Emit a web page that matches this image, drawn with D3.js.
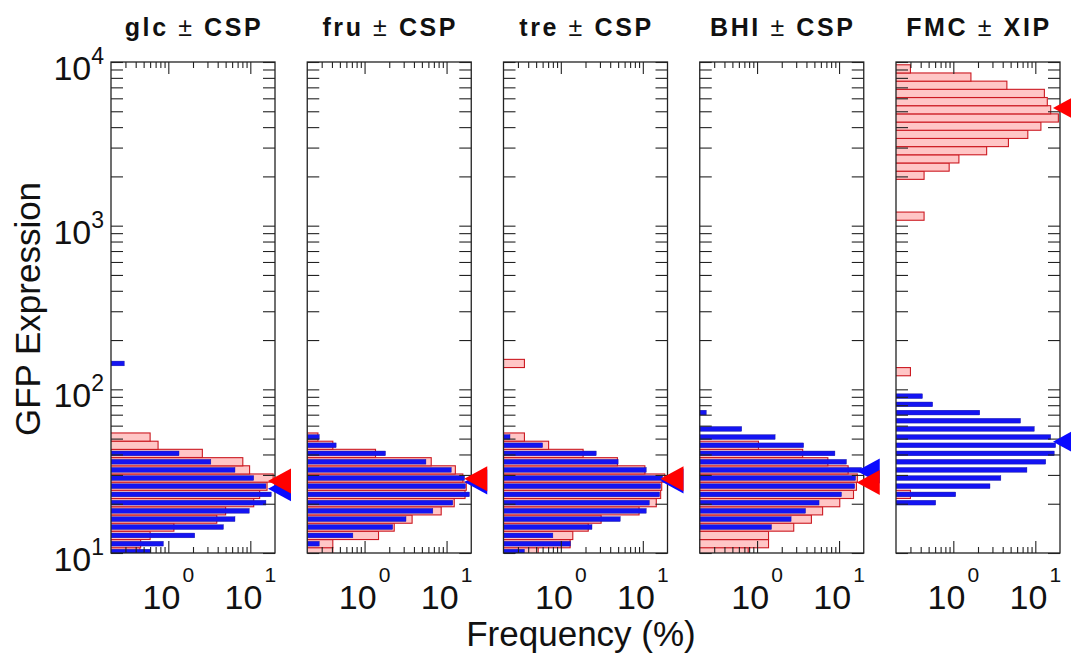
<!DOCTYPE html>
<html><head><meta charset="utf-8">
<script src="https://cdn.jsdelivr.net/npm/d3@7"></script>
<style>body{margin:0;background:#fff}svg{display:block}</style>
</head><body>
<svg id="chart" width="1071" height="656"></svg>
<script>
// ---------------- data ----------------
const panelNames = ["glc", "fru", "tre", "BHI", "FMC"];
const peptides = ["CSP", "CSP", "CSP", "CSP", "XIP"];
const binRatio = 1.122;           // histogram bins are 0.05 decade wide (GFP)
const xTickMajor = [1, 10];
const xTickMinor = [0.3,0.4,0.5,0.6,0.7,0.8,0.9,2,3,4,5,6,7,8,9];
const yTickMajor = [10, 100, 1000, 10000];
const yTickMinor = [20,30,40,50,60,70,80,90,200,300,400,500,600,700,800,900,2000,3000,4000,5000,6000,7000,8000,9000];
const yLabelExp = [1, 2, 3, 4];
const xLabelExp = [0, 1];

// [GFP bin centre, frequency %]  — red = with peptide, blue = without peptide
const glcWith = [[10.2,0.45],[11.4,0.46],[12.8,0.6],[14.4,1.17],[16.1,3.9],[18.1,5.0],[20.3,11],[22.8,13],[25.6,16],[28.7,19],[32.2,9.8],[36.1,8.1],[40.6,2.6],[45.5,0.75],[51.1,0.6]];
const glcWithout = [[10.2,0.61],[11.4,0.87],[12.8,2.1],[14.4,4.7],[16.1,6.5],[18.1,9.7],[20.3,15.5],[22.8,18],[25.6,15.5],[28.7,11],[32.2,6.5],[36.1,3.3],[40.6,1.35],[143.9,0.29]];
const fruWith = [[10.2,0.41],[11.4,0.41],[12.8,1.48],[14.4,2.3],[16.1,3.8],[18.1,8.6],[20.3,12.4],[22.8,16.8],[25.6,17.4],[28.7,15.8],[32.2,12.8],[36.1,6.5],[40.6,1.36],[45.5,0.41],[51.1,0.27]];
const fruWithout = [[11.4,0.28],[12.8,0.72],[14.4,2.2],[16.1,3.2],[18.1,6.8],[20.3,11.9],[22.8,19],[25.6,17],[28.7,16.6],[32.2,11.4],[36.1,5.6],[40.6,1.8],[45.5,0.45],[51.1,0.28]];
const treWith = [[10.2,0.53],[11.4,1.3],[12.8,1.4],[14.4,2.16],[16.1,3.1],[18.1,9],[20.3,14.6],[22.8,16.5],[25.6,17],[28.7,18.5],[32.2,10.6],[36.1,4.9],[40.6,1.87],[45.5,0.71],[51.1,0.36],[143.9,0.36]];
const treWithout = [[10.2,0.36],[11.4,1.31],[12.8,0.8],[14.4,2.4],[16.1,5.3],[18.1,11],[20.3,12],[22.8,16],[25.6,16.5],[28.7,17.4],[32.2,11],[36.1,5],[40.6,2.7],[45.5,0.6],[51.1,0.24]];
const bhiWith = [[10.2,0.78],[11.4,1.38],[12.8,1.38],[14.4,2.8],[16.1,4.6],[18.1,6.3],[20.3,10.2],[22.8,15],[25.6,16.3],[28.7,16.7],[32.2,12.9],[36.1,7.3],[40.6,3.6],[45.5,1.04]];
const bhiWithout = [[14.4,1.5],[16.1,2.6],[18.1,3.9],[20.3,5.7],[22.8,10.7],[25.6,15.5],[28.7,15.9],[32.2,18.8],[36.1,12.3],[40.6,8.9],[45.5,3.7],[51.1,1.66],[57.3,0.65],[72.1,0.24]];
const fmcWith = [[22.8,0.3],[128.2,0.3],[1143,0.44],[2032,0.44],[2280,0.89],[2559,1.17],[2871,2.55],[3221,4.7],[3614,8.1],[4055,11.7],[4550,19.1],[5105,15.4],[5728,14],[6427,12.9],[7211,4.5],[8091,1.64],[9078,0.3]];
const fmcWithout = [[20.3,0.61],[22.8,1.07],[25.6,2.8],[28.7,3.8],[32.2,7.9],[36.1,13.4],[40.6,17],[45.5,17.7],[51.1,15.4],[57.3,9.7],[64.3,6.6],[72.1,2.1],[80.9,0.56],[90.8,0.42]];

const withSeries = [glcWith, fruWith, treWith, bhiWith, fmcWith];
const withoutSeries = [glcWithout, fruWithout, treWithout, bhiWithout, fmcWithout];
const medianWith = [27.5, 28.4, 28.4, 27, 5240];
const medianWithout = [24.7, 27.2, 27.5, 31.7, 47.9];

// ---------------- layout ----------------
const FONT = "Arial, 'Liberation Sans', Helvetica, sans-serif";
const plotTop = 62, plotBottom = 553, panelW = 164, firstLeft = 111, panelStep = 196.25;
const svg = d3.select("#chart");
const y = d3.scaleLog().domain([10, 10000]).range([plotBottom, plotTop]);

const defs = svg.append("defs");

panelNames.forEach((name, i) => {
  const left = firstLeft + i * panelStep;
  const x = d3.scaleLog().domain([0.2, 20]).range([left, left + panelW]);
  const g = svg.append("g");

  defs.append("clipPath").attr("id", "clip" + i)
    .append("rect").attr("x", left).attr("y", plotTop).attr("width", panelW).attr("height", plotBottom - plotTop);

  const bars = g.append("g").attr("clip-path", `url(#clip${i})`);
  const half = Math.sqrt(binRatio);
  bars.selectAll("rect.w").data(withSeries[i]).join("rect")
    .attr("x", x(0.2) - 2)
    .attr("y", d => y(d[0] * half))
    .attr("width", d => x(d[1]) - x(0.2) + 2)
    .attr("height", d => y(d[0] / half) - y(d[0] * half))
    .attr("fill", "#ffc6c6").attr("stroke", "#cc1a22").attr("stroke-width", 1.1);
  bars.selectAll("rect.wo").data(withoutSeries[i]).join("rect")
    .attr("x", x(0.2) - 2)
    .attr("y", d => { const h = y(d[0] / half) - y(d[0] * half); return y(d[0] * half) + h * 0.21; })
    .attr("width", d => x(d[1]) - x(0.2) + 2)
    .attr("height", d => (y(d[0] / half) - y(d[0] * half)) * 0.58)
    .attr("fill", "#1414f2").attr("stroke", "#10109a").attr("stroke-width", 0.4);

  const tickStyle = sel => { sel.select(".domain").remove(); sel.selectAll("line").attr("stroke", "#222").attr("stroke-width", 1.1); sel.selectAll("text").remove(); };
  g.append("g").attr("transform", `translate(0,${plotBottom})`).call(d3.axisBottom(x).tickValues(xTickMinor).tickSize(-6)).call(tickStyle);
  g.append("g").attr("transform", `translate(0,${plotBottom})`).call(d3.axisBottom(x).tickValues(xTickMajor).tickSize(-12)).call(tickStyle);
  g.append("g").attr("transform", `translate(0,${plotTop})`).call(d3.axisTop(x).tickValues(xTickMinor).tickSize(-6)).call(tickStyle);
  g.append("g").attr("transform", `translate(0,${plotTop})`).call(d3.axisTop(x).tickValues(xTickMajor).tickSize(-12)).call(tickStyle);
  g.append("g").attr("transform", `translate(${left},0)`).call(d3.axisLeft(y).tickValues(yTickMinor.concat(yTickMajor)).tickSize(-12)).call(tickStyle);
  g.append("g").attr("transform", `translate(${left + panelW},0)`).call(d3.axisRight(y).tickValues(yTickMinor.concat(yTickMajor)).tickSize(-12)).call(tickStyle);

  g.append("rect").attr("x", left).attr("y", plotTop).attr("width", panelW).attr("height", plotBottom - plotTop)
    .attr("fill", "none").attr("stroke", "#222").attr("stroke-width", 1.3);

  const tri = (v, color) => {
    const xr = x(20), yc = y(v);
    g.append("path")
      .attr("d", `M${xr - 7},${yc} L${xr + 16},${yc - 12.5} L${xr + 16},${yc + 12.5} Z`)
      .attr("fill", color);
  };
  tri(medianWithout[i], "#0a0aff");
  tri(medianWith[i], "#ff0000");

  xTickMajor.forEach((t, j) => {
    const tx = g.append("text").attr("x", x(t)).attr("y", 609).attr("text-anchor", "middle")
      .attr("font-family", FONT).attr("font-size", 34).attr("fill", "#111");
    tx.append("tspan").text("10");
    tx.append("tspan").attr("dx", 2).attr("dy", -27).attr("font-size", 21).text(xLabelExp[j]);
  });

  const tt = g.append("text").attr("x", left + panelW / 2 + 1).attr("y", 36).attr("text-anchor", "middle")
    .attr("font-family", FONT).attr("font-size", 25).attr("font-weight", "bold").attr("letter-spacing", 2.6).attr("fill", "#111");
  tt.append("tspan").text(name + " ");
  tt.append("tspan").attr("font-weight", "normal").text("±");
  tt.append("tspan").text(" " + peptides[i]);
});

yTickMajor.forEach((t, j) => {
  const tx = svg.append("text").attr("x", firstLeft - 7).attr("y", y(t) + 18).attr("text-anchor", "end")
    .attr("font-family", FONT).attr("font-size", 34).attr("fill", "#111");
  tx.append("tspan").text("10");
  tx.append("tspan").attr("dy", -16).attr("font-size", 23).text(yLabelExp[j]);
});

svg.append("text").attr("transform", `translate(40,309) rotate(-90)`)
  .attr("text-anchor", "middle").attr("font-family", FONT).attr("font-size", 35).attr("fill", "#111")
  .text("GFP Expression");
svg.append("text").attr("x", 581).attr("y", 646).attr("text-anchor", "middle")
  .attr("font-family", FONT).attr("font-size", 35).attr("fill", "#111")
  .text("Frequency (%)");
</script>
</body></html>
